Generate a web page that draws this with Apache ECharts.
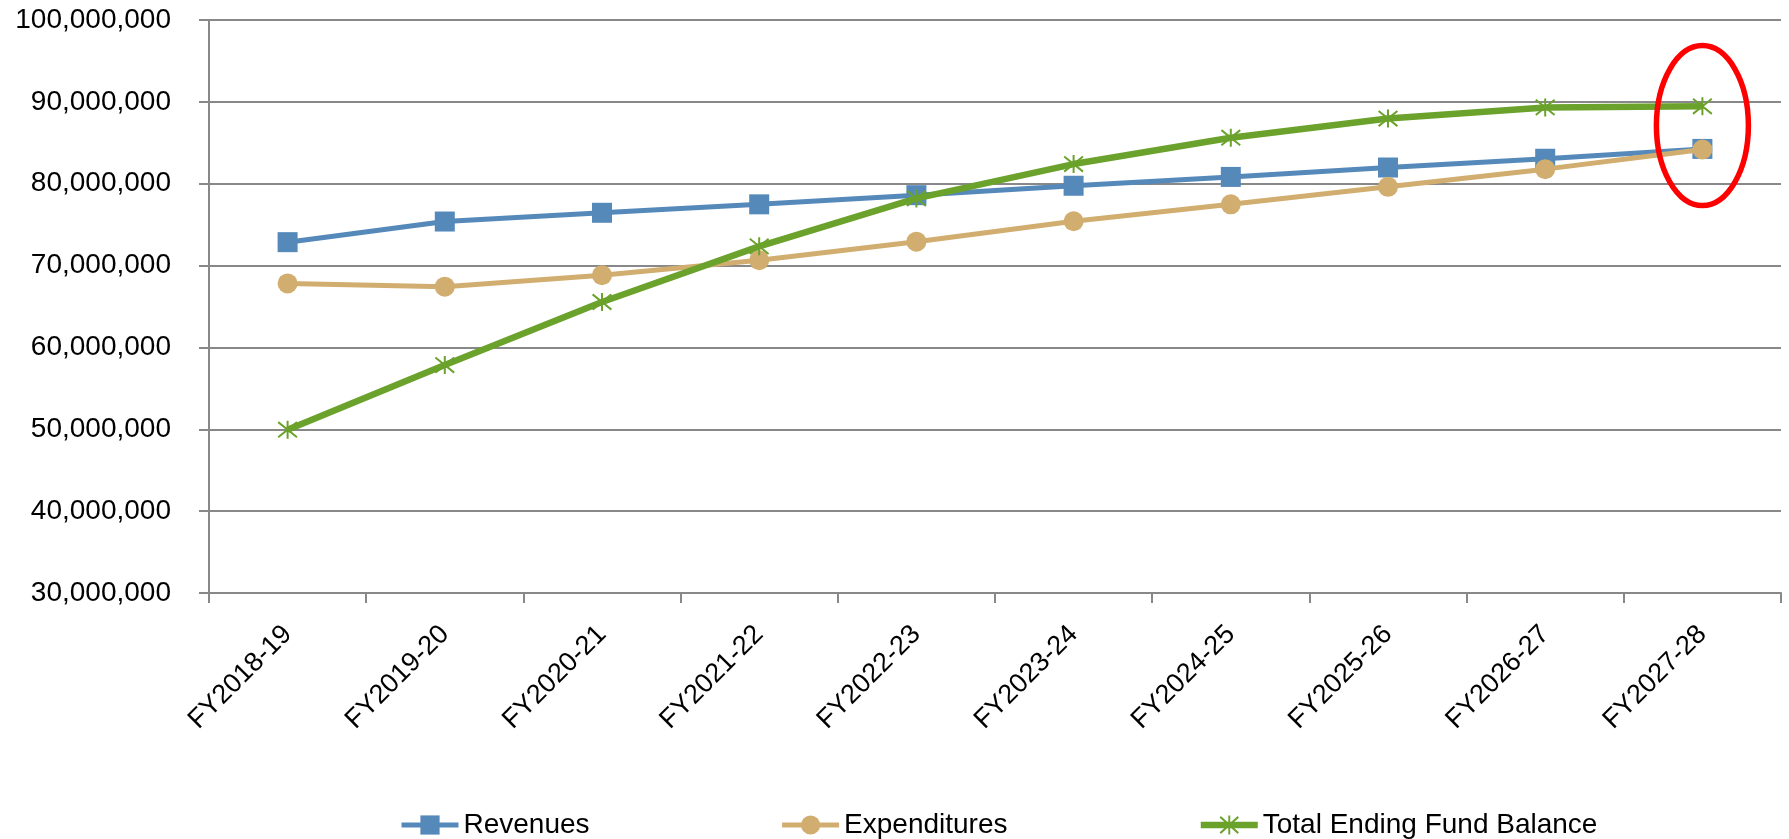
<!DOCTYPE html>
<html>
<head>
<meta charset="utf-8">
<script src="https://cdn.jsdelivr.net/npm/echarts@6/dist/echarts.min.js"></script>
<style>
html,body{margin:0;padding:0;background:#fff;}
#c{width:1789px;height:839px;}
</style>
</head>
<body>
<div id="c"></div>
<script>
const categories = ['FY2018-19','FY2019-20','FY2020-21','FY2021-22','FY2022-23','FY2023-24','FY2024-25','FY2025-26','FY2026-27','FY2027-28'];
const revenues = [72860000, 75380000, 76450000, 77480000, 78600000, 79750000, 80830000, 81980000, 83050000, 84250000];
const expenditures = [67820000, 67420000, 68830000, 70650000, 72920000, 75420000, 77480000, 79620000, 81780000, 84180000];
const fundBalance = [49950000, 57850000, 65550000, 72350000, 78200000, 82400000, 85620000, 87960000, 89320000, 89460000];
const yTicks = {min: 30000000, max: 100000000, interval: 10000000};
const seriesNames = ['Revenues','Expenditures','Total Ending Fund Balance'];
const highlight = {category: 'FY2027-28', value: 87100000};

const FONT = '"Liberation Sans", Arial, sans-serif';
const axisGray = '#888888';
const colors = ['#5589BA', '#D1AE6F', '#6AA22B'];
const widths = [5, 5, 6.5];
const asterisk = 'path://M9,0 L11,0 L11,18 L9,18 Z M0,2.2 L1.2,0.6 L20,15.8 L18.8,17.4 Z M18.8,0.6 L20,2.2 L1.2,17.4 L0,15.8 Z';

const chart = echarts.init(document.getElementById('c'), null, {renderer: 'canvas'});
const option = {
  animation: false,
  backgroundColor: '#ffffff',
  grid: {left: 209, right: 8, top: 20, bottom: 246, containLabel: false},
  legend: {
    left: 394, top: 806,
    itemGap: 190, itemWidth: 57, itemHeight: 24,
    textStyle: {fontFamily: FONT, fontSize: 28, color: '#000'},
    data: seriesNames.map((n, i) => ({name: n, lineStyle: {width: widths[i], color: colors[i]}}))
  },
  xAxis: {
    type: 'category',
    data: categories,
    boundaryGap: true,
    axisLine: {lineStyle: {color: axisGray, width: 2}},
    axisTick: {show: true, length: 10, alignWithLabel: false, lineStyle: {color: axisGray, width: 2}},
    axisLabel: {rotate: 45, margin: 37, interval: 0, fontFamily: FONT, fontSize: 27, color: '#000'},
    splitLine: {show: false}
  },
  yAxis: {
    type: 'value',
    min: yTicks.min, max: yTicks.max, interval: yTicks.interval,
    axisLine: {show: true, lineStyle: {color: axisGray, width: 2}},
    axisTick: {show: true, length: 10, lineStyle: {color: axisGray, width: 2}},
    axisLabel: {margin: 38, fontFamily: FONT, fontSize: 28, color: '#000',
      formatter: v => v.toLocaleString('en-US')},
    splitLine: {show: true, lineStyle: {color: axisGray, width: 2}}
  },
  series: [
    {name: seriesNames[0], type: 'line', data: revenues, symbol: 'rect', symbolSize: 20,
      lineStyle: {color: colors[0], width: widths[0]}, itemStyle: {color: colors[0]}, z: 3},
    {name: seriesNames[1], type: 'line', data: expenditures, symbol: 'circle', symbolSize: 20,
      lineStyle: {color: colors[1], width: widths[1]}, itemStyle: {color: colors[1]}, z: 4},
    {name: seriesNames[2], type: 'line', data: fundBalance, symbol: asterisk, symbolSize: [20, 18],
      lineStyle: {color: colors[2], width: widths[2]}, itemStyle: {color: colors[2]}, z: 5}
  ]
};
chart.setOption(option);

const p = chart.convertToPixel({xAxisIndex: 0, yAxisIndex: 0}, [highlight.category, highlight.value]);
chart.setOption({
  graphic: [{
    type: 'ellipse', z: 100,
    shape: {cx: p[0], cy: p[1], rx: 46, ry: 80},
    style: {fill: 'none', stroke: '#FF0000', lineWidth: 5.5}
  }]
});
</script>
</body>
</html>
